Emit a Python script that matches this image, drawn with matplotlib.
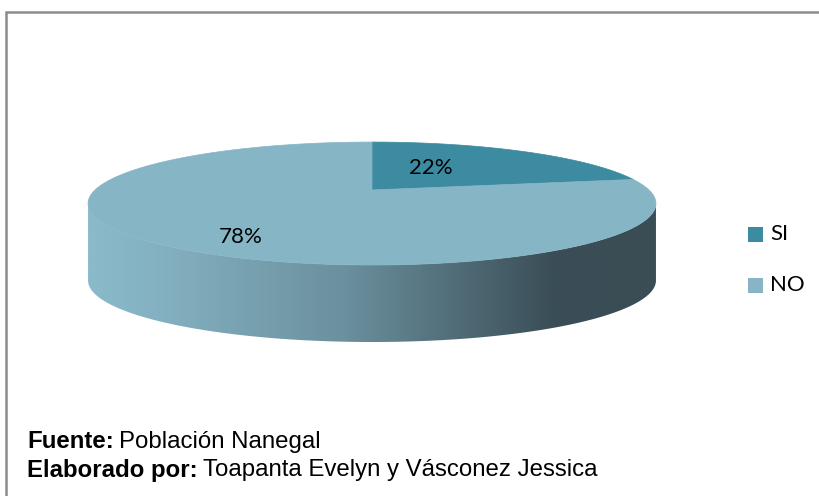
import numpy as np
import matplotlib
matplotlib.use('Agg')
import matplotlib.pyplot as plt
from matplotlib.patches import Polygon, Rectangle
from matplotlib.colors import LinearSegmentedColormap

# data
labels = ['SI', 'NO']
values = [22, 78]
pct_labels = ['22%', '78%']
colors = ['#3d8ba1', '#86b5c6']
source_bold = ['Fuente:', 'Elaborado por:']
source_text = ['Población Nanegal', 'Toapanta Evelyn y Vásconez Jessica']

# pie layout (pixels)
cx, cy = 372, 190      # apex of the top face
A, B = 277, 58.5       # half width / half height of the disc
p = 0.22               # perspective
depth = 77
label_off = [(59, -22), (-131, 47)]


def project(theta, dy=0):
    c, s = np.cos(theta), np.sin(theta)
    d = 1 + p * s
    return cx + A * c / d, cy - B * s / d + dy


fig = plt.figure(figsize=(8.2, 4.96), dpi=100)
ax = fig.add_axes([0, 0, 1, 1])
ax.set_xlim(0, 820)
ax.set_ylim(496, 0)
ax.axis('off')

# frame
ax.plot([6, 6, 830], [500, 12, 12], color='#8c8c8c', lw=1.8, solid_joinstyle='miter')

# side of the disc, gradient left to right
t_left = np.pi + np.arcsin(p)
t_right = 2 * np.pi - np.arcsin(p)
t = np.linspace(t_left, t_right, 300)
xt, yt = project(t)
xb, yb = project(t[::-1], depth)
side = Polygon(np.column_stack([np.r_[xt, xb], np.r_[yt, yb]]), closed=True,
               facecolor='none', edgecolor='none')
ax.add_patch(side)
cmap = LinearSegmentedColormap.from_list('side', [(0, '#8abbcb'), (0.12, '#84b1c1'),
                                                  (0.45, '#6b909e'), (0.82, '#3a4e57'),
                                                  (1, '#3a4d55')])
grad = np.linspace(0, 1, 256).reshape(1, -1)
im = ax.imshow(grad, cmap=cmap, aspect='auto',
               extent=[xt.min(), xt.max(), yb.max() + 2, yt.min() - 2], zorder=1)
im.set_clip_path(side)
ax.set_xlim(0, 820)
ax.set_ylim(496, 0)

# top face wedges, clockwise from 12 o'clock
start = 90.0
total = sum(values)
for i, v in enumerate(values):
    sweep = 360.0 * v / total
    th = np.radians(np.linspace(start, start - sweep, 200))
    x, y = project(th)
    ax.add_patch(Polygon(np.column_stack([np.r_[cx, x], np.r_[cy, y]]), closed=True,
                         facecolor=colors[i], edgecolor=colors[i], lw=0.5, zorder=2))
    ox, oy = label_off[i]
    ax.text(cx + ox, cy + oy, pct_labels[i], ha='center', va='center',
            fontsize=16, family='Lato', color='black', zorder=3)
    start -= sweep

# legend
for i, lab in enumerate(labels):
    y0 = 234 + 51 * i
    ax.add_patch(Rectangle((748, y0 - 7.5), 15, 15, facecolor=colors[i], edgecolor='none'))
    ax.text(770, y0, lab, ha='left', va='center', fontsize=16, family='Lato')

# source notes
fig.canvas.draw()
r = fig.canvas.get_renderer()
for i in range(2):
    yy = 442 + 28 * i
    tb = ax.text(27, yy, source_bold[i], ha='left', va='center', fontsize=17.3,
                 fontweight='bold', family='Liberation Sans')
    bb = tb.get_window_extent(r)
    x1 = ax.transData.inverted().transform((bb.x1, bb.y0))[0]
    ax.text(x1 + 5, yy, source_text[i], ha='left', va='center', fontsize=17.3,
            family='Liberation Sans')

fig.savefig('out.png', dpi=100)
